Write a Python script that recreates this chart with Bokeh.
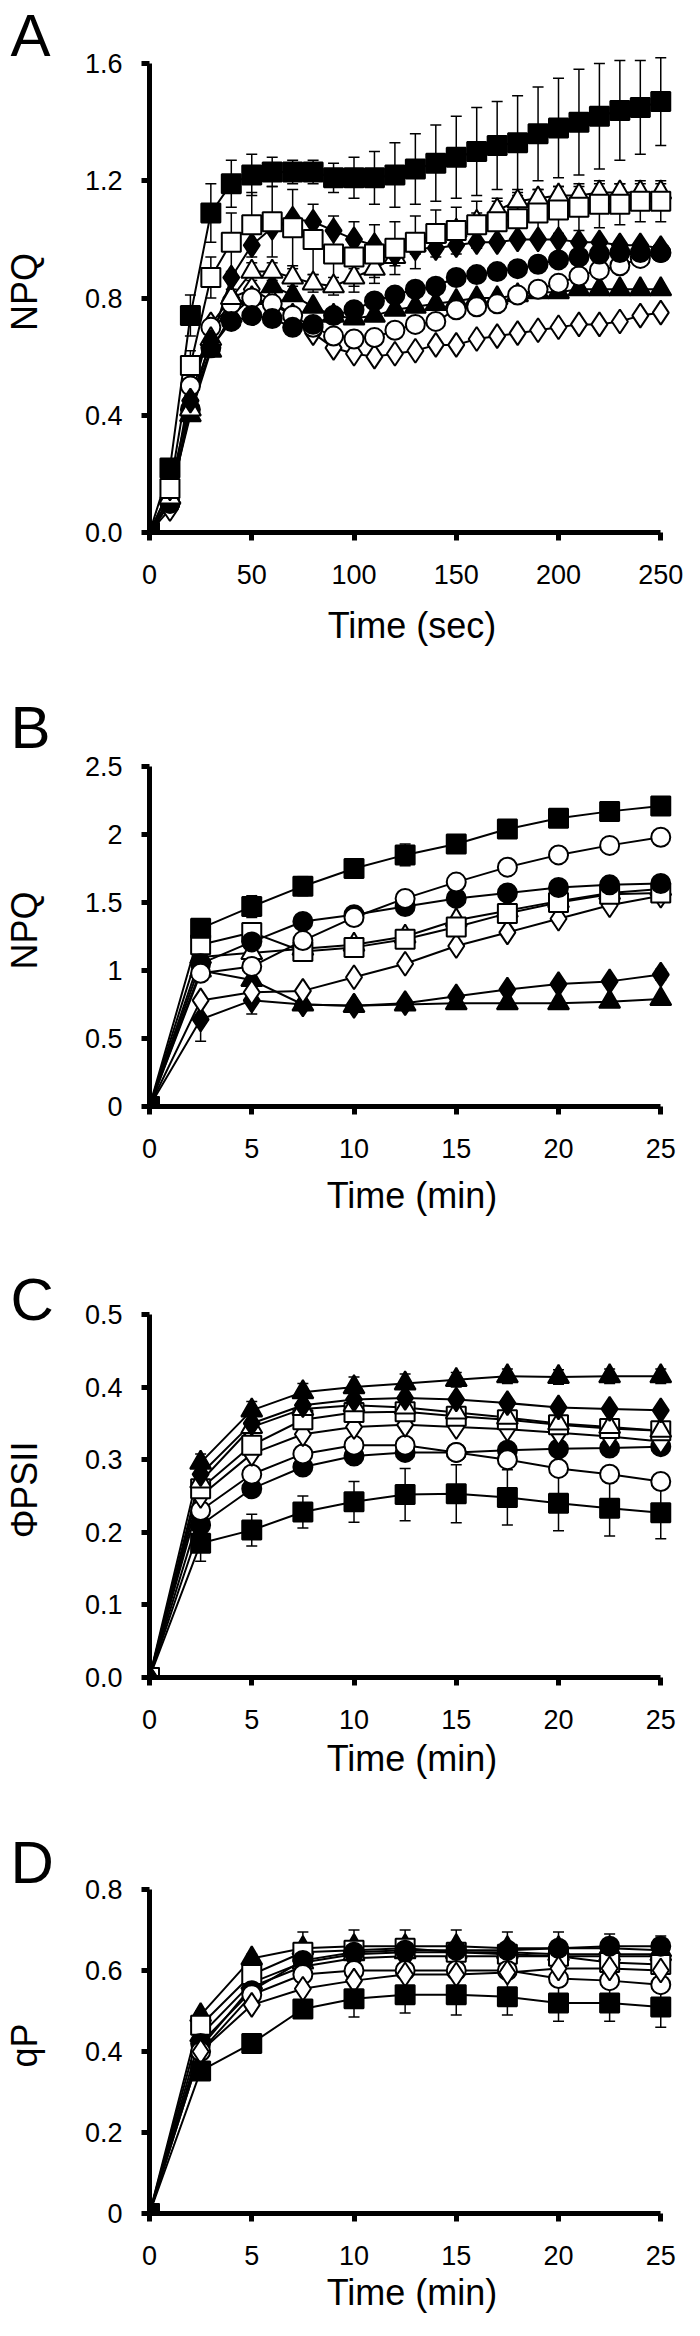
from bokeh.plotting import figure
from bokeh.models import (LinearAxis, FixedTicker, Range1d, Title, Whisker,
                          TeeHead, ColumnDataSource)
from bokeh.layouts import column
from bokeh.embed import file_html
from bokeh.resources import INLINE

FONT = "Liberation Sans"

# ---------------- data ----------------
A_time = [0, 10, 20, 30, 40, 50, 60, 70, 80, 90, 100, 110, 120, 130, 140, 150,
          160, 170, 180, 190, 200, 210, 220, 230, 240, 250]
A_sq_f = [0, 0.22, 0.74, 1.09, 1.19, 1.22, 1.23, 1.23, 1.23, 1.21, 1.21, 1.21, 1.22,
          1.24, 1.26, 1.28, 1.30, 1.32, 1.33, 1.36, 1.38, 1.40, 1.42, 1.44, 1.45, 1.47]
A_sq_f_err = [0, 0.02, 0.07, 0.10, 0.08, 0.07, 0.05, 0.04, 0.04, 0.05, 0.07, 0.09, 0.11,
              0.12, 0.13, 0.14, 0.15, 0.15, 0.16, 0.16, 0.17, 0.18, 0.18, 0.17, 0.16, 0.15]
A_sq_o = [0, 0.15, 0.57, 0.87, 0.99, 1.05, 1.06, 1.04, 1.00, 0.95, 0.94, 0.95, 0.97,
          0.99, 1.02, 1.03, 1.05, 1.06, 1.07, 1.09, 1.10, 1.11, 1.12, 1.12, 1.13, 1.13]
A_sq_o_err = [0, 0.02, 0.05, 0.07, 0.10, 0.11, 0.12, 0.13, 0.12, 0.13, 0.12, 0.10, 0.09,
              0.09, 0.08, 0.08, 0.08, 0.08, 0.08, 0.08, 0.08, 0.08, 0.08, 0.07, 0.07, 0.07]
A_di_f = [0, 0.15, 0.45, 0.65, 0.87, 0.98, 1.04, 1.07, 1.06, 1.03, 1.00, 0.98, 0.95,
          0.97, 0.97, 0.98, 0.99, 0.99, 1.00, 1.00, 1.00, 0.99, 0.99, 0.98, 0.98, 0.97]
A_tr_o = [0, 0.12, 0.42, 0.66, 0.80, 0.89, 0.89, 0.87, 0.85, 0.84, 0.87, 0.90, 0.94,
          0.98, 1.01, 1.03, 1.06, 1.10, 1.13, 1.14, 1.15, 1.15, 1.16, 1.16, 1.16, 1.16]
A_tr_o_err = [0, 0.01, 0.02, 0.03, 0.03, 0.03, 0.03, 0.03, 0.03, 0.03, 0.03, 0.03, 0.03,
              0.03, 0.03, 0.03, 0.03, 0.03, 0.03, 0.03, 0.03, 0.03, 0.03, 0.03, 0.03, 0.03]
A_ci_f = [0, 0.10, 0.42, 0.63, 0.72, 0.74, 0.73, 0.70, 0.71, 0.74, 0.76, 0.79, 0.81,
          0.83, 0.84, 0.87, 0.88, 0.89, 0.90, 0.915, 0.93, 0.94, 0.95, 0.955, 0.955, 0.955]
A_ci_o = [0, 0.10, 0.50, 0.70, 0.78, 0.80, 0.78, 0.74, 0.70, 0.67, 0.66, 0.665, 0.69,
          0.71, 0.72, 0.76, 0.77, 0.78, 0.81, 0.83, 0.85, 0.875, 0.895, 0.91, 0.935, 0.955]
A_tr_f = [0, 0.12, 0.40, 0.62, 0.74, 0.80, 0.84, 0.81, 0.77, 0.74, 0.73, 0.74, 0.76,
          0.77, 0.78, 0.79, 0.80, 0.80, 0.81, 0.82, 0.82, 0.83, 0.83, 0.83, 0.83, 0.83]
A_di_o = [0, 0.08, 0.45, 0.71, 0.80, 0.83, 0.79, 0.74, 0.68, 0.63, 0.61, 0.60, 0.61,
          0.62, 0.64, 0.64, 0.66, 0.67, 0.68, 0.69, 0.70, 0.71, 0.71, 0.72, 0.74, 0.75]

T_min = [0, 2.5, 5, 7.5, 10, 12.5, 15, 17.5, 20, 22.5, 25]

B_sq_f = [0, 1.31, 1.47, 1.62, 1.75, 1.85, 1.93, 2.04, 2.12, 2.17, 2.21]
B_sq_f_err = [0, 0.05, 0.08, 0.07, 0.06, 0.08, 0.06, 0.03, 0.03, 0.03, 0.04]
B_ci_o = [0, 0.98, 1.03, 1.22, 1.39, 1.53, 1.65, 1.76, 1.85, 1.92, 1.98]
B_ci_f = [0, 1.05, 1.21, 1.36, 1.41, 1.47, 1.53, 1.57, 1.61, 1.63, 1.64]
B_sq_o = [0, 1.19, 1.28, 1.14, 1.17, 1.23, 1.32, 1.42, 1.50, 1.56, 1.57]
B_tr_o = [0, 1.10, 1.13, 1.16, 1.19, 1.25, 1.37, 1.44, 1.51, 1.57, 1.60]
B_di_o = [0, 0.78, 0.84, 0.85, 0.95, 1.05, 1.18, 1.28, 1.38, 1.48, 1.55]
B_di_f = [0, 0.64, 0.78, 0.75, 0.74, 0.76, 0.81, 0.86, 0.90, 0.92, 0.97]
B_di_f_err = [0, 0.16, 0.10, 0.03, 0.02, 0.02, 0.03, 0.02, 0.02, 0.02, 0.04]
B_tr_f = [0, 1.00, 0.93, 0.75, 0.74, 0.75, 0.76, 0.76, 0.76, 0.77, 0.79]

C_tr_f = [0, 0.296, 0.368, 0.393, 0.400, 0.405, 0.410, 0.415, 0.414, 0.415, 0.415]
C_tr_f_err = [0, 0.012, 0.012, 0.012, 0.014, 0.013, 0.010, 0.010, 0.010, 0.010, 0.010]
C_di_f = [0, 0.28, 0.35, 0.375, 0.383, 0.385, 0.383, 0.378, 0.372, 0.370, 0.368]
C_tr_o = [0, 0.27, 0.345, 0.37, 0.375, 0.372, 0.365, 0.358, 0.350, 0.345, 0.340]
C_sq_o = [0, 0.26, 0.32, 0.355, 0.365, 0.366, 0.360, 0.355, 0.348, 0.343, 0.340]
C_di_o = [0, 0.25, 0.308, 0.335, 0.345, 0.348, 0.345, 0.342, 0.337, 0.332, 0.325]
C_ci_o = [0, 0.23, 0.28, 0.308, 0.32, 0.32, 0.31, 0.30, 0.288, 0.28, 0.27]
C_ci_f = [0, 0.21, 0.26, 0.29, 0.305, 0.31, 0.31, 0.313, 0.315, 0.316, 0.318]
C_sq_f = [0, 0.185, 0.203, 0.228, 0.242, 0.252, 0.253, 0.248, 0.240, 0.233, 0.227]
C_sq_f_err = [0, 0.025, 0.022, 0.022, 0.028, 0.036, 0.040, 0.038, 0.038, 0.038, 0.036]

D_sq_f = [0, 0.352, 0.42, 0.505, 0.53, 0.54, 0.54, 0.535, 0.52, 0.52, 0.51]
D_sq_f_err = [0, 0.02, 0.02, 0.02, 0.045, 0.045, 0.05, 0.045, 0.045, 0.045, 0.05]
D_di_o = [0, 0.40, 0.515, 0.555, 0.575, 0.59, 0.59, 0.595, 0.605, 0.605, 0.60]
D_ci_o = [0, 0.40, 0.54, 0.59, 0.60, 0.60, 0.60, 0.60, 0.58, 0.575, 0.565]
D_ci_f = [0, 0.42, 0.55, 0.625, 0.645, 0.65, 0.65, 0.65, 0.655, 0.66, 0.66]
D_sq_o = [0, 0.465, 0.59, 0.645, 0.65, 0.655, 0.645, 0.64, 0.635, 0.62, 0.615]
D_tr_f = [0, 0.49, 0.63, 0.655, 0.66, 0.66, 0.66, 0.655, 0.655, 0.655, 0.65]
D_tr_f_err = [0, 0.01, 0.01, 0.04, 0.04, 0.04, 0.04, 0.04, 0.04, 0.035, 0.035]
D_di_f = [0, 0.41, 0.56, 0.61, 0.63, 0.635, 0.635, 0.635, 0.635, 0.635, 0.635]
D_tr_o = [0, 0.44, 0.57, 0.62, 0.64, 0.645, 0.645, 0.645, 0.64, 0.64, 0.64]

A_xticks = [0, 50, 100, 150, 200, 250]
min_xticks = [0, 5, 10, 15, 20, 25]
A_yticks = [0, 0.4, 0.8, 1.2, 1.6]
A_ylabels = ["0.0", "0.4", "0.8", "1.2", "1.6"]
B_yticks = [0, 0.5, 1, 1.5, 2, 2.5]
B_ylabels = ["0", "0.5", "1", "1.5", "2", "2.5"]
C_yticks = [0, 0.1, 0.2, 0.3, 0.4, 0.5]
C_ylabels = ["0.0", "0.1", "0.2", "0.3", "0.4", "0.5"]
D_yticks = [0, 0.2, 0.4, 0.6, 0.8]
D_ylabels = ["0", "0.2", "0.4", "0.6", "0.8"]

# marker styles: (marker, filled, size)
STYLE = {
    "sq_f": ("square", True, 19), "sq_o": ("square", False, 19),
    "ci_f": ("circle", True, 19), "ci_o": ("circle", False, 19),
    "tr_f": ("triangle", True, 21), "tr_o": ("triangle", False, 21),
    "di_f": ("diamond", True, 24), "di_o": ("diamond", False, 24),
}

W = 684
LEFT = 139
RIGHT = 10
AXIS_LEN_X = 521


def panel(letter, letter_standoff, xs, xmax, xticks, yticks, ylabels, ymax,
          frame_h, top, bottom, xlab_standoff, ylabel, xlabel, series, errors):
    ppx = AXIS_LEN_X / xmax
    ppy = (frame_h - 12) / ymax
    frame_w = W - LEFT - RIGHT
    xr = Range1d(0, frame_w / ppx)
    yr = Range1d(0, frame_h / ppy)
    p = figure(width=W, height=top + frame_h + bottom, x_range=xr, y_range=yr,
               x_axis_location=None, y_axis_location=None,
               output_backend="svg", toolbar_location=None,
               min_border_left=LEFT, min_border_right=RIGHT,
               min_border_top=top, min_border_bottom=bottom)
    p.outline_line_color = None
    p.xgrid.visible = False
    p.ygrid.visible = False
    p.background_fill_color = "white"
    p.border_fill_color = "white"

    common = dict(axis_line_width=5, axis_line_color="black",
                  major_tick_line_width=5, major_tick_line_color="black",
                  major_tick_out=8, major_tick_in=0,
                  minor_tick_out=0, minor_tick_in=0,
                  major_label_text_font=FONT, major_label_text_font_size="27px",
                  major_label_text_color="black",
                  axis_label_text_font=FONT, axis_label_text_font_size="36px",
                  axis_label_text_font_style="normal",
                  axis_label_text_color="black")
    xa = LinearAxis(ticker=FixedTicker(ticks=xticks), bounds=(0, xmax),
                    axis_label=xlabel, major_label_standoff=24,
                    axis_label_standoff=xlab_standoff, **common)
    ya = LinearAxis(ticker=FixedTicker(ticks=yticks), bounds=(0, ymax),
                    axis_label=ylabel, major_label_standoff=19,
                    axis_label_standoff=37,
                    major_label_overrides=dict(zip(yticks, ylabels)), **common)
    p.add_layout(xa, "below")
    p.add_layout(ya, "left")

    for key, ys in errors:
        lo = [v - e for v, e in zip(ys[0], ys[1])]
        hi = [v + e for v, e in zip(ys[0], ys[1])]
        src = ColumnDataSource(dict(base=xs, lower=lo, upper=hi))
        w = Whisker(source=src, base="base", lower="lower", upper="upper",
                    line_color="black", line_width=1.5, level="underlay",
                    upper_head=TeeHead(size=11, line_width=1.5, line_color="black"),
                    lower_head=TeeHead(size=11, line_width=1.5, line_color="black"))
        p.add_layout(w)

    for key, ys in series:
        p.line(xs, ys, line_color="black", line_width=2)
    for key, ys in series:
        marker, filled, size = STYLE[key]
        p.scatter(xs, ys, marker=marker, size=size,
                  fill_color="black" if filled else "white",
                  line_color="black", line_width=2)

    p.add_layout(Title(text=letter, align="left", offset=-LEFT,
                       text_font=FONT, text_font_size="60px",
                       text_font_style="normal", text_color="black",
                       vertical_align="bottom", standoff=letter_standoff), "above")
    return p


pA = panel("A", -34, A_time, 250, A_xticks, A_yticks, A_ylabels, 1.6,
           481, 51, 160, 18, "NPQ", "Time (sec)",
           [("di_o", A_di_o), ("tr_f", A_tr_f), ("ci_o", A_ci_o), ("ci_f", A_ci_f),
            ("tr_o", A_tr_o), ("di_f", A_di_f), ("sq_o", A_sq_o), ("sq_f", A_sq_f)],
           [("sq_f", (A_sq_f, A_sq_f_err)), ("sq_o", (A_sq_o, A_sq_o_err)),
            ("tr_o", (A_tr_o, A_tr_o_err))])

pB = panel("B", -12, T_min, 25, min_xticks, B_yticks, B_ylabels, 2.5,
           352, 62, 151, 14, "NPQ", "Time (min)",
           [("tr_f", B_tr_f), ("di_f", B_di_f), ("di_o", B_di_o), ("tr_o", B_tr_o),
            ("sq_o", B_sq_o), ("ci_f", B_ci_f), ("ci_o", B_ci_o), ("sq_f", B_sq_f)],
           [("sq_f", (B_sq_f, B_sq_f_err)), ("di_f", (B_di_f, B_di_f_err))])

pC = panel("C", -60, T_min, 25, min_xticks, C_yticks, C_ylabels, 0.5,
           375, 45, 145, 6, "ΦPSII", "Time (min)",
           [("sq_f", C_sq_f), ("ci_f", C_ci_f), ("ci_o", C_ci_o), ("di_o", C_di_o),
            ("sq_o", C_sq_o), ("tr_o", C_tr_o), ("di_f", C_di_f), ("tr_f", C_tr_f)],
           [("sq_f", (C_sq_f, C_sq_f_err)), ("tr_f", (C_tr_f, C_tr_f_err))])

pD = panel("D", -36, T_min, 25, min_xticks, D_yticks, D_ylabels, 0.8,
           336, 55, 107, 4, "qP", "Time (min)",
           [("tr_o", D_tr_o), ("di_f", D_di_f), ("tr_f", D_tr_f), ("sq_o", D_sq_o),
            ("ci_f", D_ci_f), ("ci_o", D_ci_o), ("di_o", D_di_o), ("sq_f", D_sq_f)],
           [("sq_f", (D_sq_f, D_sq_f_err)), ("tr_f", (D_tr_f, D_tr_f_err))])

layout = column(pA, pB, pC, pD, spacing=0)
open("out.html", "w").write(file_html(layout, INLINE))
